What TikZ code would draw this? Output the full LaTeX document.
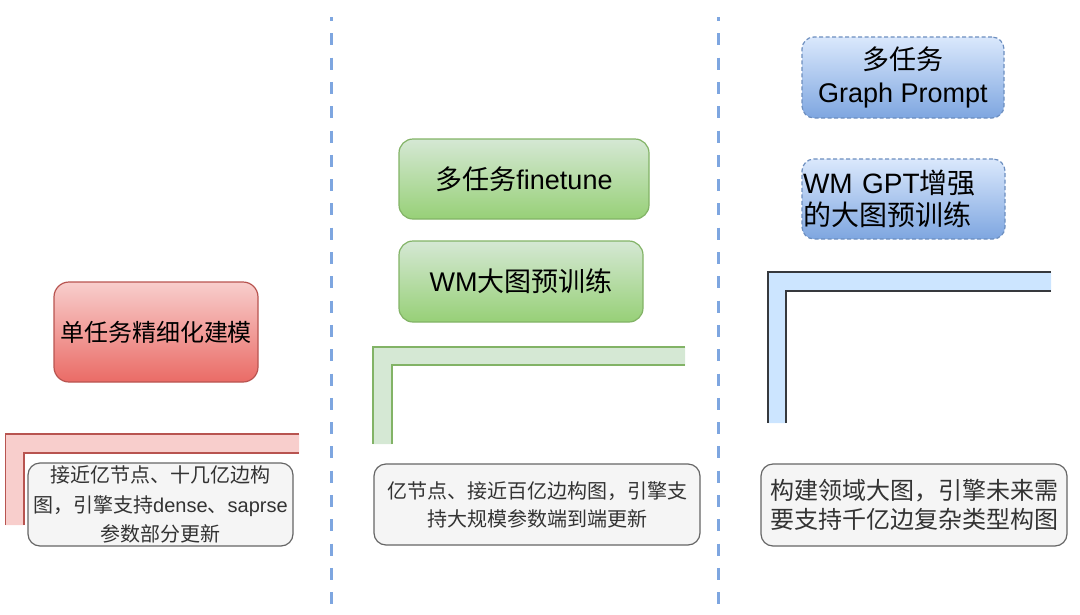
\documentclass[tikz,border=0pt]{standalone}
\usepackage{fontspec}
\setmainfont{Liberation Sans}
\newfontfamily\cjkfont{Noto Sans CJK SC}
\newcommand{\zhtext}[1]{{\cjkfont #1}}
\definecolor{redtop}{HTML}{F8CECC}
\definecolor{redbot}{HTML}{EA6B66}
\definecolor{redline}{HTML}{B85450}
\definecolor{greentop}{HTML}{D5E8D4}
\definecolor{greenbot}{HTML}{97D077}
\definecolor{greenline}{HTML}{82B366}
\definecolor{bluetop}{HTML}{DAE8FC}
\definecolor{bluebot}{HTML}{7EA6E0}
\definecolor{blueline}{HTML}{6C8EBF}
\definecolor{bluefill}{HTML}{CCE5FF}
\definecolor{darkline}{HTML}{36393D}
\definecolor{greyfill}{HTML}{F5F5F5}
\definecolor{greyline}{HTML}{666666}
\definecolor{greytext}{HTML}{333333}
\definecolor{sepline}{HTML}{7EA6E0}
\tikzset{
  basebox/.style={inner sep=0pt, align=center, line width=1.2pt},
  redbox/.style={basebox, draw=redline, rounded corners=15pt, top color=redtop, bottom color=redbot,
    font=\fontsize{24}{29}\selectfont},
  greenbox/.style={basebox, draw=greenline, rounded corners=14pt, top color=greentop, bottom color=greenbot,
    font=\fontsize{27}{33}\selectfont},
  bluebox/.style={basebox, draw=blueline, dash pattern=on 4pt off 2.5pt, rounded corners=12pt,
    top color=bluetop, bottom color=bluebot, font=\fontsize{27}{33}\selectfont},
  greybox/.style={basebox, draw=greyline, fill=greyfill, rounded corners=12pt, text=greytext},
  sepstyle/.style={draw=sepline, line width=3pt, dash pattern=on 12pt off 12.3pt, dash phase=8pt},
}
\begin{document}
\begin{tikzpicture}[x=1pt, y=-1pt]
\useasboundingbox (0,0) rectangle (1080,614);

% separators
\coordinate (s1top) at (331,17);
\coordinate (s1bot) at (331,614);
\coordinate (s2top) at (718,17);
\coordinate (s2bot) at (718,614);
\draw[sepstyle] (s1top) -- (s1bot);
\draw[sepstyle] (s2top) -- (s2bot);

% L shapes
\fill[redtop] (5.5,525) -- (5.5,434) -- (299,434) -- (299,453) -- (24,453) -- (24,525) -- cycle;
\draw[redline, line width=1.5pt] (5.5,525) -- (5.5,434) -- (299,434);
\draw[redline, line width=1.5pt] (299,453) -- (24,453) -- (24,525);

\fill[greentop] (373,444) -- (373,347) -- (685,347) -- (685,365) -- (392,365) -- (392,444) -- cycle;
\draw[greenline, line width=1.5pt] (373,444) -- (373,347) -- (685,347);
\draw[greenline, line width=1.5pt] (685,365) -- (392,365) -- (392,444);

\fill[bluefill] (768,423) -- (768,272) -- (1051,272) -- (1051,291) -- (786,291) -- (786,423) -- cycle;
\draw[darkline, line width=2pt] (768,423) -- (768,272) -- (1051,272);
\draw[darkline, line width=2pt] (1051,291) -- (786,291) -- (786,423);

% column 1
\node[redbox, minimum width=204pt, minimum height=100pt] (single) at (156,332)
  {\zhtext{单任务精细化建模}};
\node[greybox, minimum width=265pt, minimum height=83pt, font=\fontsize{20}{29.5}\selectfont] (g1) at (160.5,504.5)
  {\zhtext{接近亿节点、十几亿边构}\\\zhtext{图，引擎支持}dense\zhtext{、}saprse\\\zhtext{参数部分更新}};

% column 2
\node[greenbox, minimum width=250pt, minimum height=80pt] (multi) at (524,179)
  {\zhtext{多任务}finetune};
\node[greenbox, minimum width=244pt, minimum height=81pt] (wmpre) at (521,281.5)
  {WM\zhtext{大图预训练}};
\node[greybox, minimum width=326pt, minimum height=81pt, font=\fontsize{20}{28}\selectfont] (g2) at (537,504.5)
  {\zhtext{亿节点、接近百亿边构图，引擎支}\\\zhtext{持大规模参数端到端更新}};

% column 3
\node[bluebox, minimum width=202pt, minimum height=81pt] (prompt) at (903,77.5)
  {\zhtext{多任务}\\Graph Prompt};
\node[bluebox, minimum height=80pt, text width=201pt, inner sep=1pt, align=left,
  font=\fontsize{28}{32}\selectfont] (gpt) at (903.5,199)
  {WM GPT\zhtext{增强}\\\zhtext{的大图预训练}};
\node[greybox, minimum width=306pt, minimum height=82pt, font=\fontsize{24}{29}\selectfont] (g3) at (914,505)
  {\zhtext{构建领域大图，引擎未来需}\\\zhtext{要支持千亿边复杂类型构图}};
\end{tikzpicture}
\end{document}
